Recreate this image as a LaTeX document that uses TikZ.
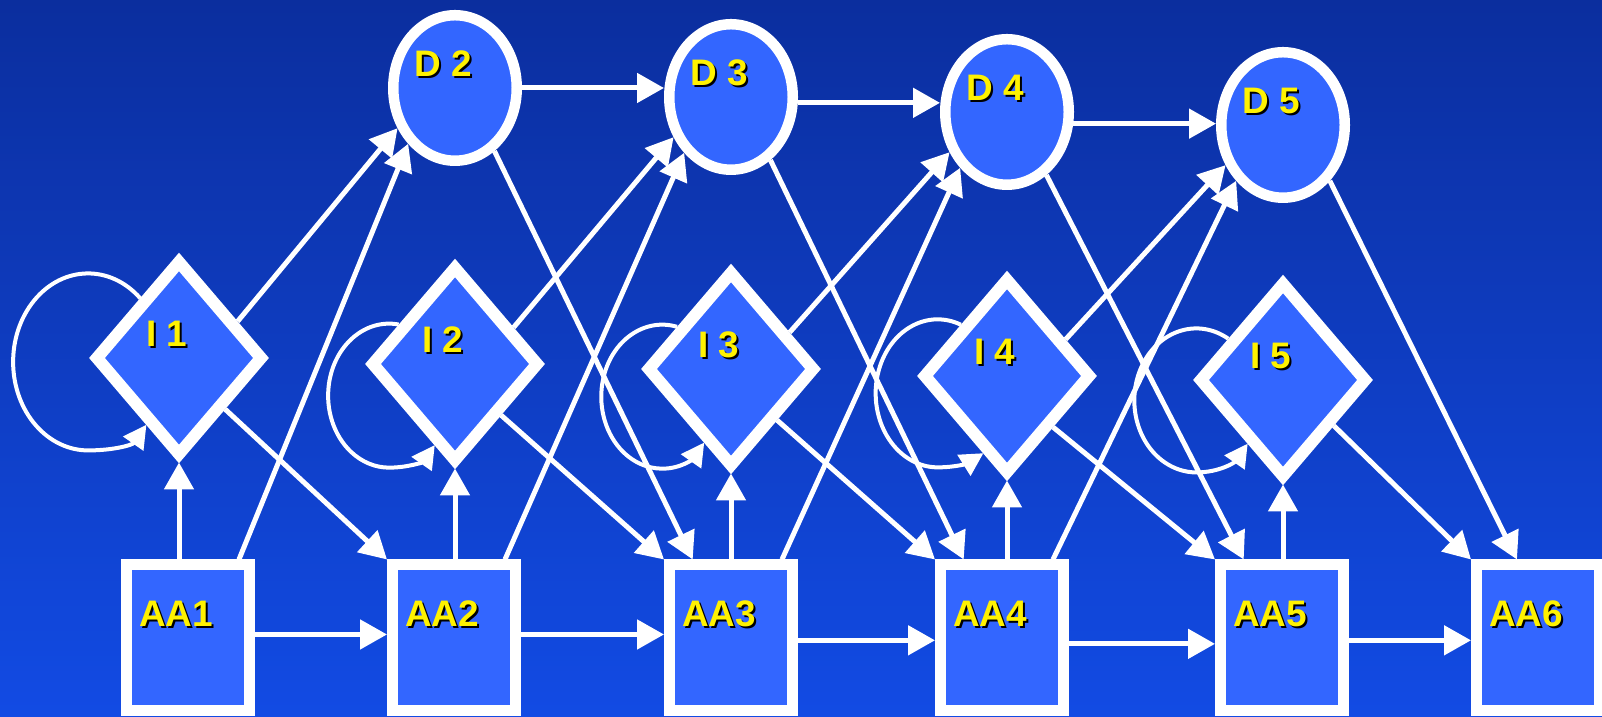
\documentclass[tikz,border=0pt]{standalone}
\usepackage{xcolor}
\usepackage{fontspec}
\usepackage{tikz}
\usetikzlibrary{shapes.geometric,arrows.meta,backgrounds}

\newfontfamily\lblfont{Liberation Sans}
\definecolor{bgtop}{RGB}{11,46,158}
\definecolor{bgbot}{RGB}{18,75,228}
\definecolor{nodefill}{RGB}{51,102,255}
% yellow text with a small black drop shadow
\newcommand\shtext[1]{\rlap{\kern0.2mm\raisebox{-0.2mm}{\color{black}#1}}{\color{yellow}#1}}

\tikzset{
  box/.style={draw=white,line width=1.1mm,fill=nodefill,minimum width=1.23cm,minimum height=1.46cm,inner sep=0pt},
  dnode/.style={ellipse,draw=white,line width=1.05mm,fill=nodefill,minimum width=1.235cm,minimum height=1.455cm,inner sep=0pt},
  inode/.style={diamond,draw=white,line width=1.2mm,fill=nodefill,minimum width=1.69cm,minimum height=1.97cm,inner sep=0pt},
  tag/.style={font=\lblfont\bfseries\fontsize{10.5}{12}\selectfont,inner sep=0pt,xshift=-1.2mm,yshift=2.3mm},
  arr/.style={draw=white,line width=0.5mm,-{Triangle[length=2.7mm,width=2.9mm]}},
  selfarr/.style={draw=white,line width=0.4mm,-{Triangle[length=2.3mm,width=2.4mm]}}
}

\begin{document}
\begin{tikzpicture}[x=1cm,y=1cm]
	\useasboundingbox (0,0) rectangle (16.02,7.17);

	% top row: D nodes
	\node[dnode,label={[tag]center:\shtext{D 2}}] (d2) at (4.55,6.29) {};
	\node[dnode,label={[tag]center:\shtext{D 3}}] (d3) at (7.31,6.20) {};
	\node[dnode,label={[tag]center:\shtext{D 4}}] (d4) at (10.07,6.05) {};
	\node[dnode,label={[tag]center:\shtext{D 5}}] (d5) at (12.83,5.92) {};

	% middle row: I diamonds
	\node[inode,label={[tag]center:\shtext{I 1}}] (i1) at (1.79,3.59) {};
	\node[inode,label={[tag]center:\shtext{I 2}}] (i2) at (4.55,3.53) {};
	\node[inode,label={[tag]center:\shtext{I 3}}] (i3) at (7.31,3.48) {};
	\node[inode,label={[tag]center:\shtext{I 4}}] (i4) at (10.07,3.41) {};
	\node[inode,label={[tag]center:\shtext{I 5}}] (i5) at (12.83,3.37) {};

	% bottom row: AA boxes
	\node[box,label={[tag]center:\shtext{AA1}}] (aa1) at (1.88,0.79) {};
	\node[box,label={[tag]center:\shtext{AA2}}] (aa2) at (4.54,0.79) {};
	\node[box,label={[tag]center:\shtext{AA3}}] (aa3) at (7.31,0.79) {};
	\node[box,label={[tag]center:\shtext{AA4}}] (aa4) at (10.02,0.79) {};
	\node[box,label={[tag]center:\shtext{AA5}}] (aa5) at (12.82,0.79) {};
	\node[box,label={[tag]center:\shtext{AA6}}] (aa6) at (15.38,0.79) {};

	\begin{scope}[on background layer]
		\shade[top color=bgtop,bottom color=bgbot] (0,0) rectangle (16.02,7.17);

		% along the bottom
		\draw[arr] (aa1.3) -- (aa1.3 -| aa2.west);
		\draw[arr] (aa2.3) -- (aa2.3 -| aa3.west);
		\draw[arr] (aa3.-2) -- (aa3.-2 -| aa4.west);
		\draw[arr] (aa4.-5) -- (aa4.-5 -| aa5.west);
		\draw[arr] (aa5.-2) -- (aa5.-2 -| aa6.west);

		% along the top
		\draw[arr] (d2.east) -- (d2.east -| d3.west);
		\draw[arr] (d3.355) -- (d3.355 -| d4.west);
		\draw[arr] (d4.350) -- (d4.350 -| d5.west);

		% boxes up into diamonds
		\draw[arr] (aa1.north -| i1.south) -- (i1.south);
		\draw[arr] (aa2.north -| i2.south) -- (i2.south);
		\draw[arr] (aa3.north -| i3.south) -- (i3.south);
		\draw[arr] (aa4.north -| i4.south) -- (i4.south);
		\draw[arr] (aa5.north -| i5.south) -- (i5.south);

		% up to the next D
		\draw[arr] (i1.32) -- (d2.215);
		\draw[arr] (i2.32) -- (d3.215);
		\draw[arr] (i3.32) -- (d4.215);
		\draw[arr] (i4.32) -- (d5.215);
		\draw[arr] (aa1.57) -- (d2.230);
		\draw[arr] (aa2.57) -- (d3.230);
		\draw[arr] (aa3.57) -- (d4.230);
		\draw[arr] (aa4.57) -- (d5.230);

		% down to the next box
		\draw[arr] (i1.312) -- (aa2.north west);
		\draw[arr] (i2.312) -- (aa3.north west);
		\draw[arr] (i3.312) -- (aa4.north west);
		\draw[arr] (i4.312) -- (aa5.north west);
		\draw[arr] (i5.318) -- (aa6.north west);
		\draw[arr] (d2.302) -- (aa3.116);
		\draw[arr] (d3.302) -- (aa4.116);
		\draw[arr] (d4.302) -- (aa5.116);
		\draw[arr] (d5.310) -- (aa6.105);

		% self loops, round on the left and back in at the lower edge
		\draw[selfarr] (i1.123) arc[start angle=46,end angle=270,x radius=0.75,y radius=0.885] to[out=0,in=235] (i1.244);
		\draw[selfarr] (i2.145) arc[start angle=81,end angle=270,x radius=0.61,y radius=0.72] to[out=0,in=235] (i2.256);
		\draw[selfarr] (i3.142) arc[start angle=76,end angle=270,x radius=0.61,y radius=0.72] to[out=0,in=235] (i3.250);
		\draw[selfarr] (i4.132) arc[start angle=68,end angle=270,x radius=0.62,y radius=0.74] to[out=0,in=212] (i4.253);
		\draw[selfarr] (i5.143) arc[start angle=59,end angle=270,x radius=0.62,y radius=0.72] to[out=0,in=235] (i5.241);
	\end{scope}
\end{tikzpicture}
\end{document}
